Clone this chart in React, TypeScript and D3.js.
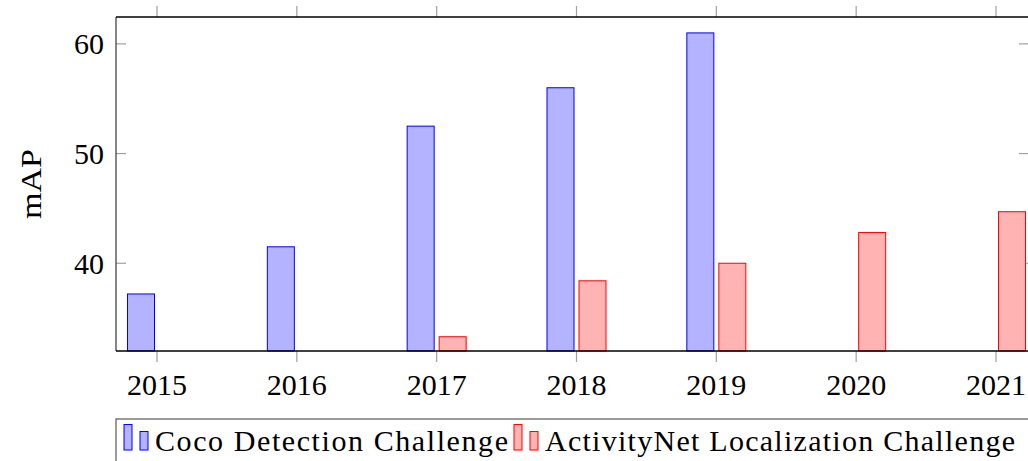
import React from 'react';
import * as d3 from 'd3';

const years = [2015, 2016, 2017, 2018, 2019, 2020, 2021];
const cocoValues: (number | null)[] = [37.2, 41.5, 52.5, 56, 61, null, null];
const activityValues: (number | null)[] = [null, null, 33.3, 38.4, 40, 42.8, 44.7];
const yTicks = [40, 50, 60];
const seriesNames = ['Coco Detection Challenge', 'ActivityNet Localization Challenge'];

const width = 1028;
const height = 461;
const left = 116;
const right = 1029;
const top = 17;
const bottom = 351;
const barWidth = 27;
const barShift = 16;
const font = '"Liberation Serif", "Times New Roman", serif';

const blue = { fill: '#b3b3ff', stroke: '#0000ff' };
const red = { fill: '#ffb3b3', stroke: '#ff0000' };

export default function App() {
  // ticks at 2015..2021, axis padded on both sides
  const x = d3.scaleLinear().domain([2015, 2021]).range([157, 996]);
  const y = d3.scaleLinear().domain([32, 62.45]).range([bottom, top]);

  const bars = (vals: (number | null)[], shift: number, col: { fill: string; stroke: string }, key: string) =>
    years.map((yr, i) => {
      const v = vals[i];
      if (v == null) return null;
      const cx = x(yr) + shift;
      return (
        <rect
          key={key + yr}
          x={cx - barWidth / 2}
          y={y(v)}
          width={barWidth}
          height={y.range()[0] - y(v)}
          fill={col.fill}
          stroke={col.stroke}
          strokeWidth={1}
        />
      );
    });

  // legend pieces
  const legendTop = 419;
  const legendIcon = (x0: number, col: { fill: string; stroke: string }) => (
    <g>
      <rect x={x0} y={424.5} width={8} height={25.5} fill={col.fill} stroke={col.stroke} strokeWidth={1} />
      <rect x={x0 + 16} y={431.5} width={8} height={18.5} fill={col.fill} stroke={col.stroke} strokeWidth={1} />
    </g>
  );

  return (
    <svg
      width={width}
      height={height}
      style={{ position: 'absolute', left: 0, top: 0, background: '#fff' }}
      fontFamily={font}
    >
      {/* ticks */}
      {years.map((yr) => (
        <g key={'t' + yr} stroke="#a0a0a0" strokeWidth={1.2}>
          <line x1={x(yr)} x2={x(yr)} y1={top} y2={top - 11} />
          <line x1={x(yr)} x2={x(yr)} y1={bottom} y2={bottom + 11} />
        </g>
      ))}
      {yTicks.map((t) => (
        <g key={'y' + t} stroke="#a0a0a0" strokeWidth={1.2}>
          <line x1={left} x2={left + 10} y1={y(t)} y2={y(t)} />
          <line x1={right - 10} x2={right} y1={y(t)} y2={y(t)} />
        </g>
      ))}

      {bars(cocoValues, -barShift, blue, 'c')}
      {bars(activityValues, barShift, red, 'a')}

      {/* frame */}
      <line x1={left} x2={left} y1={top} y2={bottom} stroke="#444" strokeWidth={1.3} />
      <line x1={right} x2={right} y1={top} y2={bottom} stroke="#444" strokeWidth={1.3} />
      <line x1={left} x2={right} y1={top} y2={top} stroke="#000" strokeWidth={1.4} />
      <line x1={left} x2={right} y1={bottom} y2={bottom} stroke="#000" strokeWidth={1.4} />

      {/* tick labels */}
      {years.map((yr) => (
        <text key={'xl' + yr} x={x(yr)} y={395} textAnchor="middle" fontSize={30} fill="#000">
          {yr}
        </text>
      ))}
      {yTicks.map((t) => (
        <text key={'yl' + t} x={104} y={y(t) + 10.5} textAnchor="end" fontSize={30} fill="#000">
          {t}
        </text>
      ))}
      <text
        transform={`translate(41, ${(top + bottom) / 2}) rotate(-90)`}
        textAnchor="middle"
        fontSize={30}
        textLength={70}
        lengthAdjust="spacingAndGlyphs"
        fill="#000"
      >
        mAP
      </text>

      {/* legend */}
      <rect x={left} y={legendTop} width={960} height={60} fill="none" stroke="#666" strokeWidth={1.3} />
      {legendIcon(124, blue)}
      <text x={155} y={451} fontSize={30} textLength={353} lengthAdjust="spacing" fill="#000">
        {seriesNames[0]}
      </text>
      {legendIcon(514, red)}
      <text x={545} y={451} fontSize={30} textLength={470} lengthAdjust="spacing" fill="#000">
        {seriesNames[1]}
      </text>
    </svg>
  );
}
